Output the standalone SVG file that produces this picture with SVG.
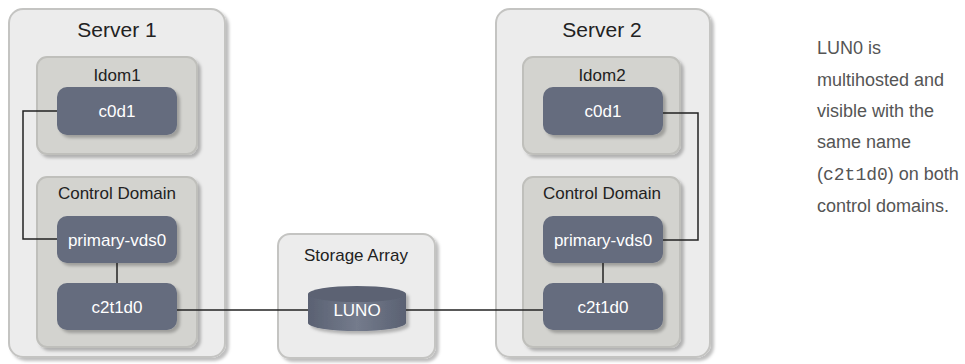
<svg xmlns="http://www.w3.org/2000/svg" width="965" height="364" viewBox="0 0 965 364">
<defs>
<filter id="sh" x="-10%" y="-10%" width="125%" height="125%">
<feDropShadow dx="3" dy="3" stdDeviation="1.5" flood-color="#000" flood-opacity="0.25"/>
</filter>
<linearGradient id="cyl" x1="0" x2="1" y1="0" y2="0">
<stop offset="0" stop-color="#5a6172"/>
<stop offset="0.5" stop-color="#747b8c"/>
<stop offset="1" stop-color="#5a6172"/>
</linearGradient>
</defs>
<style>
.outer{fill:#ececec;stroke:#c4c4c2;stroke-width:2;filter:url(#sh)}
.inner{fill:#d3d3cf;stroke:#bfbfbb;stroke-width:2;filter:url(#sh)}
.node{fill:#656c7e;filter:url(#sh)}
.t{font-family:"Liberation Sans",Arial,sans-serif;text-anchor:middle}
.title{font-size:21px;fill:#222}
.lbl{font-size:17px;fill:#222}
.nt{font-size:17px;fill:#fff}
.note{font-family:"Liberation Sans",Arial,sans-serif;font-size:18px;fill:#555}
.mono{font-family:"Liberation Mono","Courier New",monospace;font-size:18px}
.c{fill:none;stroke:#222;stroke-width:1.5}
</style>
<g id="server1">
<rect class="outer" x="9" y="9" width="216" height="348" rx="14"/>
<text class="t title" x="117" y="37">Server 1</text>
</g>
<g id="ldom1">
<rect class="inner" x="37" y="57" width="160" height="97" rx="10"/>
<text class="t lbl" x="117" y="81">Idom1</text>
</g>
<g id="cd1">
<rect class="inner" x="37" y="177" width="160" height="170" rx="10"/>
<text class="t lbl" x="117" y="199">Control Domain</text>
</g>
<g id="c0d1-1">
<rect class="node" x="57" y="87" width="120" height="48" rx="10"/>
<text class="t nt" x="117" y="117">c0d1</text>
</g>
<g id="vds1">
<rect class="node" x="57" y="216" width="120" height="47" rx="10"/>
<text class="t nt" x="117" y="246">primary-vds0</text>
</g>
<g id="c2t1d0-1">
<rect class="node" x="57" y="283" width="120" height="47" rx="10"/>
<text class="t nt" x="117" y="313">c2t1d0</text>
</g>
<g id="server2">
<rect class="outer" x="496" y="9" width="214" height="348" rx="14"/>
<text class="t title" x="602" y="37">Server 2</text>
</g>
<g id="ldom2">
<rect class="inner" x="523" y="57" width="157" height="97" rx="10"/>
<text class="t lbl" x="602" y="81">Idom2</text>
</g>
<g id="cd2">
<rect class="inner" x="523" y="177" width="157" height="170" rx="10"/>
<text class="t lbl" x="602" y="199">Control Domain</text>
</g>
<g id="c0d1-2">
<rect class="node" x="543" y="87" width="120" height="48" rx="10"/>
<text class="t nt" x="603" y="117">c0d1</text>
</g>
<g id="vds2">
<rect class="node" x="543" y="216" width="120" height="47" rx="10"/>
<text class="t nt" x="603" y="246">primary-vds0</text>
</g>
<g id="c2t1d0-2">
<rect class="node" x="543" y="283" width="120" height="47" rx="10"/>
<text class="t nt" x="603" y="313">c2t1d0</text>
</g>
<g id="storage">
<rect class="outer" x="278" y="234" width="157" height="124" rx="12"/>
<text class="t lbl" x="356" y="261">Storage Array</text>
</g>
<g id="lun">
<g filter="url(#sh)">
<path d="M308,294 L308,323 A49,8 0 0 0 406,323 L406,294 Z" fill="url(#cyl)"/>
<ellipse cx="357" cy="294" rx="49" ry="8" fill="#5b6273"/>
</g>
<text class="t nt" x="357" y="316">LUNO</text>
</g>
<g id="connectors">
<path class="c" d="M57,111 H23 V239 H57"/>
<path class="c" d="M117,263 V283"/>
<path class="c" d="M177,310 H308" stroke-width="2.5"/>
<path class="c" d="M406,310 H543"/>
<path class="c" d="M663,113 H698 V240 H663"/>
<path class="c" d="M603,263 V283"/>
</g>
<g id="note">
<text class="note" x="817" y="54">LUN0 is</text>
<text class="note" x="817" y="86">multihosted and</text>
<text class="note" x="817" y="117">visible with the</text>
<text class="note" x="817" y="148">same name</text>
<text class="note" x="817" y="180">(<tspan class="mono">c2t1d0</tspan>) on both</text>
<text class="note" x="817" y="212">control domains.</text>
</g>
</svg>
